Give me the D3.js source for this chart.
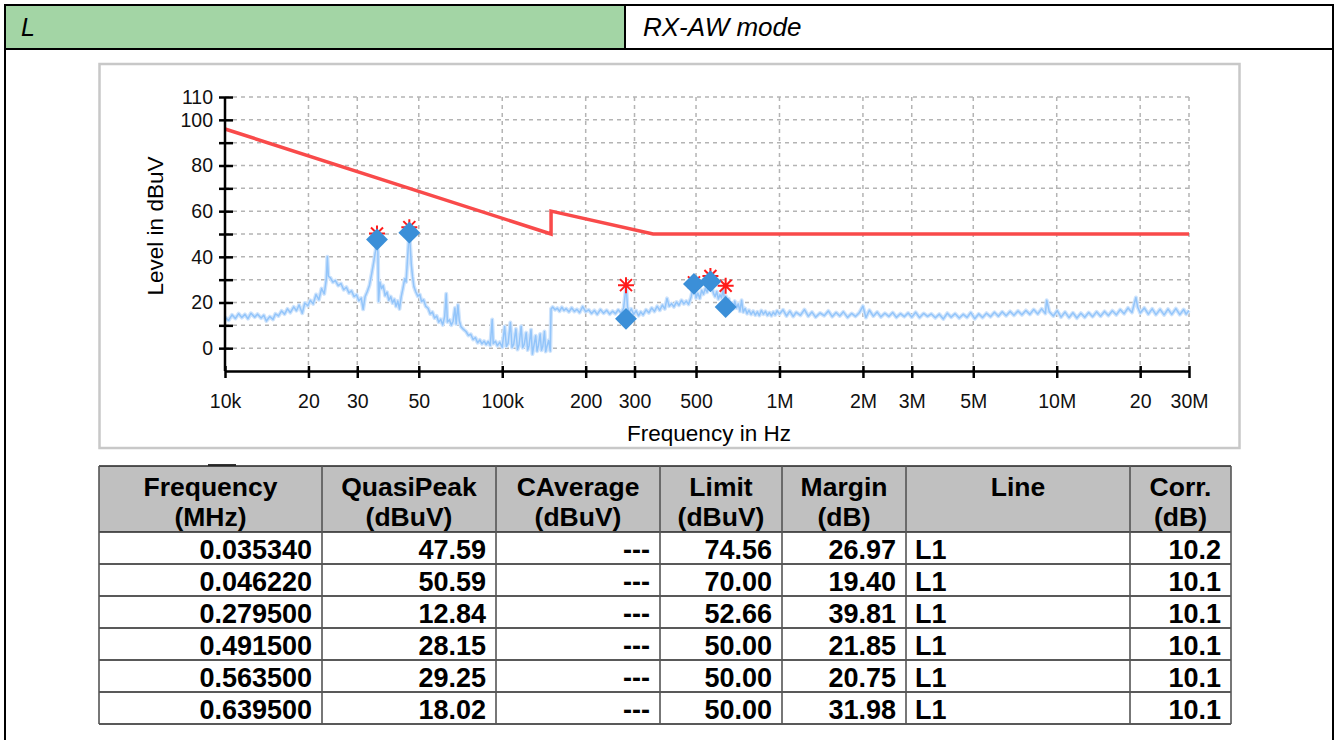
<!DOCTYPE html>
<html>
<head>
<meta charset="utf-8">
<script src="https://d3js.org/d3.v7.min.js"></script>
<style>
  body { margin: 0; background: #fff; }
  svg text { font-family: "Liberation Sans", Arial, sans-serif; }
</style>
</head>
<body>
<svg id="page" width="1338" height="740"></svg>
<script>
// header cells
const headerLeft = "L";
const headerRight = "RX-AW mode";

// limit line, Hz / dBuV
const limitFreq = [1e4, 1.5e5, 1.5e5, 3.5e5, 3e7];
const limitLevel = [96, 50, 60, 50, 50];

// final measurement: QP diamonds and peak asterisks
const qpFreq = [35340, 46220, 279500, 491500, 563500, 639500];
const qpLevel = [47.59, 50.59, 12.84, 28.15, 29.25, 18.02];
const peakLevel = [50.2, 53.0, 27.6, 28.8, 31.6, 27.3];

// axis ticks
const xTicks = [1e4, 2e4, 3e4, 5e4, 1e5, 2e5, 3e5, 5e5, 1e6, 2e6, 3e6, 5e6, 1e7, 2e7, 3e7];
const xTickLabels = ["10k", "20", "30", "50", "100k", "200", "300", "500", "1M", "2M", "3M", "5M", "10M", "20", "30M"];
const yTicks = [0, 10, 20, 30, 40, 50, 60, 70, 80, 90, 100, 110];
const yTickLabels = ["0", "", "20", "", "40", "", "60", "", "80", "", "100", "110"];

// pre-scan trace: [kHz, dBuV]
const trace = [
  [10,13.5],[10.3,12.2],[10.6,14.6],[10.9,13.0],[11.2,15.1],[11.5,13.4],[11.8,14.8],[12.1,12.9],
  [12.4,15.3],[12.8,13.6],[13.1,14.9],[13.5,13.2],[13.8,14.4],[14.1,11.9],[14.5,13.8],[14.9,12.6],
  [15.2,15.0],[15.6,14.1],[16.0,16.3],[16.4,14.9],[16.8,17.2],[17.2,15.6],[17.7,18.1],[18.1,16.4],
  [18.5,18.9],[19.0,15.3],[19.4,19.8],[19.9,18.6],[20.3,21.0],[20.8,19.4],[21.3,23.5],[21.8,21.2],
  [22.3,26.1],[22.8,23.8],[23.2,30.2],[23.4,40.0],[23.6,31.5],[24.0,30.8],[24.5,28.9],[25.0,29.6],
  [25.6,27.4],[26.2,28.3],[26.8,25.6],[27.4,26.7],[28.0,24.2],[28.6,25.1],[29.2,22.6],[29.8,23.4],
  [30.4,20.8],[31.0,21.9],[31.5,17.0],[32.0,22.5],[32.6,24.8],[33.2,27.6],[33.8,32.5],[34.4,37.8],
  [34.9,42.5],[35.3,47.0],[35.6,42.0],[35.8,20.5],[36.2,29.0],[36.7,26.1],[37.2,27.4],[37.8,23.0],
  [38.4,24.5],[39.0,21.0],[39.6,22.6],[40.2,19.8],[40.8,21.4],[41.4,18.3],[42.0,20.6],[42.6,17.2],
  [43.2,22.5],[43.8,26.0],[44.5,30.4],[45.0,29.0],[45.5,38.5],[46.0,47.5],[46.3,50.0],[46.6,44.0],
  [47.0,36.5],[47.5,31.2],[48.0,27.0],[48.8,24.6],[49.6,22.8],[50.4,23.5],[51.2,20.4],[52.0,21.2],
  [53.0,18.3],[54.0,17.5],[55.0,15.0],[56.0,15.8],[57.0,13.2],[58.0,14.1],[59.0,11.4],[60.0,12.6],
  [61.0,10.2],[62.0,13.9],[62.8,23.8],[63.4,11.5],[64.5,12.4],[65.5,10.1],[66.5,11.8],[67.5,17.6],
  [68.2,10.6],[69.2,18.9],[70.0,12.0],[71.0,9.4],[72.5,8.2],[74.0,7.3],[75.5,5.6],[77.0,6.1],
  [78.5,3.8],[80.0,4.6],[81.5,2.4],[83.0,3.6],[84.5,1.9],[86.0,3.1],[87.5,1.6],[89.0,2.9],
  [90.5,1.2],[92.0,12.6],[92.8,2.0],[94.5,3.0],[96.0,1.1],[98.0,2.6],[100,0.4],[102,9.5],
  [103.5,0.8],[105,2.1],[107,11.2],[108.5,0.3],[110,1.8],[112,8.4],[113.5,-0.6],[115,1.5],
  [117,9.6],[118.5,0.2],[120,1.6],[122,6.8],[123.5,-0.8],[125,1.2],[127,8.1],[128.5,-2.6],
  [130,0.9],[132,5.4],[133.5,-1.3],[135,1.0],[137,6.2],[138.5,-0.9],[140,0.6],[142,7.3],
  [143.5,-1.5],[145,0.8],[147,3.4],[149,-1.2],[150,17.2],[152,18.0],[155,16.8],[158,17.5],
  [161,16.2],[164,17.9],[167,16.5],[170,17.3],[174,15.9],[178,17.6],[182,16.1],[186,17.0],
  [190,15.6],[195,18.2],[200,16.0],[205,16.8],[210,15.2],[215,16.5],[220,14.8],[226,16.9],
  [232,15.3],[238,16.6],[244,14.9],[250,16.2],[256,15.1],[262,16.8],[268,15.4],[274,17.5],
  [278,24.0],[280,26.8],[283,18.0],[287,15.6],[292,17.2],[298,14.8],[304,16.4],[310,14.2],
  [316,15.9],[322,14.6],[330,16.8],[338,15.5],[346,17.6],[354,16.1],[362,18.3],[370,16.6],
  [378,18.9],[386,17.2],[393,21.8],[400,18.4],[408,19.5],[416,18.1],[425,20.2],[434,18.8],
  [443,21.0],[452,19.4],[461,20.6],[470,19.2],[480,22.4],[488,26.5],[494,28.6],[500,22.0],
  [508,24.1],[516,21.8],[524,25.4],[532,23.6],[540,26.2],[548,24.5],[556,27.4],[563,29.5],
  [570,26.8],[578,24.0],[586,22.6],[594,24.8],[602,21.5],[610,23.4],[618,22.0],[626,25.6],
  [634,21.2],[640,22.8],[648,19.5],[656,21.6],[664,18.4],[672,19.8],[680,17.2],[690,20.6],
  [700,17.6],[710,19.4],[720,16.2],[730,21.0],[740,15.8],[752,17.4],[764,15.1],[776,16.6],
  [790,14.8],[804,16.2],[818,14.5],[832,15.9],[846,14.3],[860,16.5],[875,14.9],[890,16.1],
  [905,14.4],[920,15.6],[935,14.2],[950,15.8],[965,14.6],[980,16.4],[1000,15.0],[1030,16.8],
  [1060,14.1],[1090,16.2],[1120,13.9],[1150,15.7],[1190,14.4],[1230,16.9],[1270,14.0],[1310,15.8],
  [1350,13.6],[1400,15.4],[1450,14.2],[1500,16.3],[1550,13.8],[1600,15.6],[1650,14.1],[1700,15.9],
  [1760,13.5],[1820,15.2],[1880,13.9],[1940,15.5],[2000,18.4],[2050,13.4],[2110,16.6],[2180,14.0],
  [2250,15.8],[2320,13.7],[2400,15.3],[2480,13.9],[2560,15.6],[2640,13.5],[2730,15.1],[2820,13.8],
  [2910,15.4],[3000,13.6],[3100,15.7],[3200,13.4],[3310,15.2],[3420,13.9],[3530,15.0],[3650,13.3],
  [3770,14.9],[3900,12.8],[4030,15.3],[4160,13.6],[4300,15.1],[4450,13.2],[4600,14.8],[4750,13.5],
  [4900,15.6],[5060,12.9],[5230,15.0],[5400,13.4],[5580,15.3],[5770,13.8],[5960,15.7],[6160,14.0],
  [6360,15.9],[6570,14.2],[6790,16.1],[7010,14.4],[7250,16.3],[7490,14.6],[7740,16.5],[8000,14.8],
  [8260,16.9],[8540,15.0],[8820,17.2],[9100,15.2],[9200,21.0],[9400,16.0],[9720,14.1],[10040,16.4],
  [10370,13.6],[10720,15.8],[11080,13.4],[11440,15.5],[11820,13.2],[12220,15.3],[12620,13.5],[13040,15.6],
  [13470,13.8],[13920,15.9],[14390,14.0],[14870,16.1],[15360,14.3],[15870,16.4],[16400,14.6],[16940,16.9],
  [17500,15.1],[18080,17.6],[18680,15.6],[19300,22.2],[19600,17.9],[20000,15.4],[20700,17.6],[21400,14.9],
  [22100,17.2],[22800,14.7],[23600,17.0],[24400,14.6],[25200,17.1],[26000,14.8],[26900,17.3],[27800,14.7],
  [28700,16.9],[29300,14.9],[30000,16.5]
];

// result table
const colHeads = [["Frequency", "(MHz)"], ["QuasiPeak", "(dBuV)"], ["CAverage", "(dBuV)"],
  ["Limit", "(dBuV)"], ["Margin", "(dB)"], ["Line", ""], ["Corr.", "(dB)"]];
const tFreq = ["0.035340", "0.046220", "0.279500", "0.491500", "0.563500", "0.639500"];
const tQP = ["47.59", "50.59", "12.84", "28.15", "29.25", "18.02"];
const tCAvg = ["---", "---", "---", "---", "---", "---"];
const tLimit = ["74.56", "70.00", "52.66", "50.00", "50.00", "50.00"];
const tMargin = ["26.97", "19.40", "39.81", "21.85", "20.75", "31.98"];
const tLine = ["L1", "L1", "L1", "L1", "L1", "L1"];
const tCorr = ["10.2", "10.1", "10.1", "10.1", "10.1", "10.1"];

const svg = d3.select("#page");

// ---------- outer frame + header ----------
svg.append("rect").attr("x", 5).attr("y", 5).attr("width", 620).attr("height", 44).attr("fill", "#a3d5a5");
svg.append("line").attr("x1", 4).attr("x2", 1334).attr("y1", 5).attr("y2", 5).attr("stroke", "#000").attr("stroke-width", 2);
svg.append("line").attr("x1", 4).attr("x2", 1334).attr("y1", 49).attr("y2", 49).attr("stroke", "#000").attr("stroke-width", 2);
svg.append("line").attr("x1", 5).attr("x2", 5).attr("y1", 4).attr("y2", 740).attr("stroke", "#000").attr("stroke-width", 2);
svg.append("line").attr("x1", 1333).attr("x2", 1333).attr("y1", 4).attr("y2", 740).attr("stroke", "#000").attr("stroke-width", 2);
svg.append("line").attr("x1", 625).attr("x2", 625).attr("y1", 5).attr("y2", 49).attr("stroke", "#000").attr("stroke-width", 2);
svg.append("text").attr("x", 21).attr("y", 36).style("font-size", "25px").style("font-style", "italic").text(headerLeft);
svg.append("text").attr("x", 643).attr("y", 36).style("font-size", "26px").style("font-style", "italic").text(headerRight);

// ---------- chart panel ----------
svg.append("rect").attr("x", 99.5).attr("y", 64).attr("width", 1140).attr("height", 384)
  .attr("fill", "#fff").attr("stroke", "#c8c8c8").attr("stroke-width", 2.5);

const x = d3.scaleLog().domain([1e4, 3e7]).range([225, 1189]);
const y = d3.scaleLinear().domain([-10, 110]).range([371, 97]);
const plot = svg.append("g");

// grid
plot.selectAll(".hgrid").data(yTicks).enter().append("line")
  .attr("x1", x(1e4)).attr("x2", x(3e7)).attr("y1", d => y(d)).attr("y2", d => y(d))
  .attr("stroke", "#b4b4b4").attr("stroke-width", 1.5).attr("stroke-dasharray", "4,4");
plot.selectAll(".vgrid").data(xTicks.slice(1)).enter().append("line")
  .attr("x1", d => x(d)).attr("x2", d => x(d)).attr("y1", y(110)).attr("y2", y(-10))
  .attr("stroke", "#b4b4b4").attr("stroke-width", 1.5).attr("stroke-dasharray", "4,4");

// trace: soft halo underneath, then the line itself
const traceLine = d3.line().x(d => x(d[0] * 1000)).y(d => y(d[1]));
plot.append("path").datum(trace)
  .attr("fill", "none").attr("stroke", "#cfe4fc").attr("stroke-width", 4).attr("stroke-linejoin", "round")
  .attr("d", traceLine);
plot.append("path").datum(trace)
  .attr("fill", "none").attr("stroke", "#93c5fa").attr("stroke-width", 1.5).attr("stroke-linejoin", "round")
  .attr("d", traceLine);

// limit
plot.append("path").datum(limitFreq.map((f, i) => [f, limitLevel[i]]))
  .attr("fill", "none").attr("stroke", "#f94a4a").attr("stroke-width", 3.5)
  .attr("d", d3.line().x(d => x(d[0])).y(d => y(d[1])));

// peak asterisks
const star = "M-8,0L8,0M0,-8L0,8M-6,-6L6,6M-6,6L6,-6";
plot.selectAll(".pk").data(qpFreq).enter().append("path")
  .attr("transform", (d, i) => `translate(${x(d)},${y(peakLevel[i])})`)
  .attr("d", star).attr("stroke", "#ff1a1a").attr("stroke-width", 2).attr("fill", "none");

// QP diamonds
plot.selectAll(".qp").data(qpFreq).enter().append("path")
  .attr("transform", (d, i) => `translate(${x(d)},${y(qpLevel[i])}) rotate(45)`)
  .attr("d", d3.symbol().type(d3.symbolSquare).size(240))
  .attr("fill", "#3b8fd8");

// axes
const yAxis = d3.axisLeft(y).tickValues(yTicks).tickSize(6).tickPadding(6).tickSizeOuter(0)
  .tickFormat((d, i) => yTickLabels[i]);
const gy = plot.append("g").attr("transform", `translate(${x(1e4)},0)`).call(yAxis);
gy.select(".domain").attr("d", `M0,${y(110)}V${y(-10)}`);
gy.selectAll(".tick line").attr("x1", 8).attr("x2", -6);

const xAxis = d3.axisBottom(x).tickValues(xTicks).tickSize(7).tickPadding(16).tickSizeOuter(0)
  .tickFormat((d, i) => xTickLabels[i]);
const gx = plot.append("g").attr("transform", `translate(0,${y(-10)})`).call(xAxis);
gx.selectAll(".tick line").attr("y1", -5).attr("y2", 7);

[gx, gy].forEach(g => {
  g.select(".domain").attr("stroke", "#000").attr("stroke-width", 2.5);
  g.selectAll(".tick line").attr("stroke", "#000").attr("stroke-width", 2.5);
  g.selectAll("text").attr("fill", "#111").style("font-size", "19.5px")
    .style("font-family", "'Liberation Sans', Arial, sans-serif");
});

svg.append("text").attr("x", 709).attr("y", 441).attr("text-anchor", "middle")
  .style("font-size", "22.5px").text("Frequency in Hz");
svg.append("text").attr("transform", "translate(163,226) rotate(-90)").attr("text-anchor", "middle")
  .style("font-size", "22.5px").text("Level in dBuV");

// ---------- table ----------
const colEdges = [99, 322, 496, 660, 782, 906, 1130, 1231];
const headTop = 466, headBot = 532, rowH = 32;
const rows = tFreq.map((f, i) => [f, tQP[i], tCAvg[i], tLimit[i], tMargin[i], tLine[i], tCorr[i]]);
const tableBot = headBot + rowH * rows.length;

svg.append("line").attr("x1", 208).attr("x2", 236).attr("y1", 465).attr("y2", 465)
  .attr("stroke", "#333").attr("stroke-width", 2);
svg.append("rect").attr("x", colEdges[0]).attr("y", headTop).attr("width", colEdges[7] - colEdges[0])
  .attr("height", headBot - headTop).attr("fill", "#c0c0c0");

const tbl = svg.append("g");
// header labels
colHeads.forEach((h, c) => {
  const cx = (colEdges[c] + colEdges[c + 1]) / 2;
  h.forEach((s, k) => {
    tbl.append("text").attr("x", cx).attr("y", headTop + 30 + k * 30).attr("text-anchor", "middle")
      .style("font-size", "26.5px").style("font-weight", "bold").text(s);
  });
});
// body
rows.forEach((r, i) => {
  const by = headBot + rowH * i + 27;
  r.forEach((s, c) => {
    const left = c === 5;
    tbl.append("text")
      .attr("x", left ? colEdges[c] + 9 : colEdges[c + 1] - 10)
      .attr("y", by).attr("text-anchor", left ? "start" : "end")
      .style("font-size", "27px").style("font-weight", "bold").text(s);
  });
});
// rules
[headTop, headBot].concat(rows.map((r, i) => headBot + rowH * (i + 1))).forEach(yy => {
  tbl.append("line").attr("x1", colEdges[0]).attr("x2", colEdges[7]).attr("y1", yy).attr("y2", yy)
    .attr("stroke", "#222").attr("stroke-width", 1.6);
});
colEdges.forEach(xx => {
  tbl.append("line").attr("x1", xx).attr("x2", xx).attr("y1", headTop).attr("y2", tableBot)
    .attr("stroke", "#555").attr("stroke-width", 1.6);
});
</script>
</body>
</html>
